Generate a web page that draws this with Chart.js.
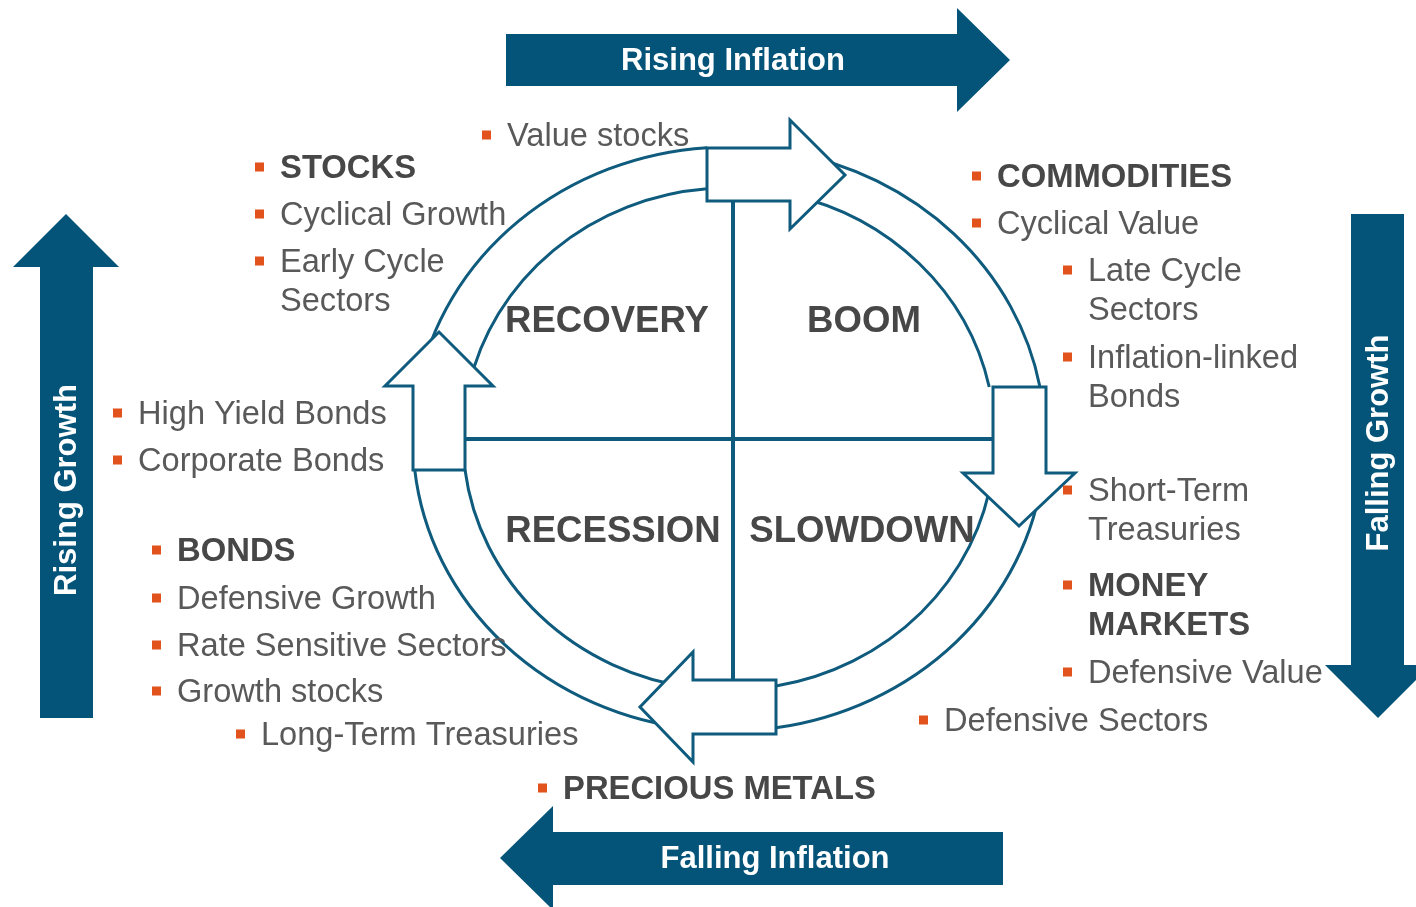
<!DOCTYPE html>
<html>
<head>
<meta charset="utf-8">
<script src="https://cdn.jsdelivr.net/npm/chart.js@4.4.1/dist/chart.umd.min.js"></script>
<style>
  html, body { margin: 0; padding: 0; background: #fff; }
  #wrap { width: 1416px; height: 907px; position: relative; }
</style>
</head>
<body>
<div id="wrap"><canvas id="cycle"></canvas></div>
<script>
// text of the diagram
var phases = ['RECOVERY', 'BOOM', 'RECESSION', 'SLOWDOWN'];
var drivers = ['Rising Inflation', 'Falling Inflation', 'Rising Growth', 'Falling Growth'];
var assetClasses = ['STOCKS', 'COMMODITIES', 'MONEY MARKETS', 'BONDS', 'PRECIOUS METALS'];
var recoveryAssets = ['Value stocks', 'STOCKS', 'Cyclical Growth', 'Early Cycle Sectors'];
var boomAssets = ['COMMODITIES', 'Cyclical Value', 'Late Cycle Sectors', 'Inflation-linked Bonds'];
var slowdownAssets = ['Short-Term Treasuries', 'MONEY MARKETS', 'Defensive Value', 'Defensive Sectors'];
var recessionAssets = ['High Yield Bonds', 'Corporate Bonds', 'BONDS', 'Defensive Growth',
  'Rate Sensitive Sectors', 'Growth stocks', 'Long-Term Treasuries', 'PRECIOUS METALS'];

// layout, in diagram units (x 0..1416, y 0..907 from the top)
var phasePos = [[607, 322], [864, 322], [613, 532], [862, 532]];
var driverPos = [[733, 60, 0], [775, 858, 0], [66, 490, -1], [1378, 443, -1]];
var driverArrows = [
  [[506, 34], [957, 34], [957, 8], [1010, 60], [957, 112], [957, 86], [506, 86]],
  [[1003, 832], [553, 832], [553, 806], [500, 858], [553, 910], [553, 885], [1003, 885]],
  [[40, 718], [40, 267], [13, 267], [66, 214], [119, 267], [93, 267], [93, 718]],
  [[1351, 214], [1404, 214], [1404, 665], [1431, 665], [1378, 718], [1325, 665], [1351, 665]]
];
var ringArrows = [
  [[707, 148], [790, 148], [790, 120], [845, 175], [790, 229], [790, 201], [707, 201]],
  [[993, 387], [1046, 387], [1046, 473], [1075, 473], [1019, 526], [963, 473], [993, 473]],
  [[776, 680], [693, 680], [693, 652], [640, 707], [693, 762], [693, 734], [776, 734]],
  [[413, 470], [413, 386], [385, 386], [439, 332], [493, 386], [465, 386], [465, 470]]
];
var ring = { cx: 729, cy: 439, outer: [316, 292], inner: [266, 251] };
// each band: start [kind, value, sign], end [kind, value, sign]
var bands = [
  [['y', 386, -1], ['x', 707, -1]],
  [['x', 790, -1], ['y', 387, 1]],
  [['y', 473, 1], ['x', 776, 1]],
  [['x', 693, 1], ['y', 470, -1]]
];
var cross = { x: 733, y: 439, top: 200, bottom: 681, left: 464, right: 994 };
var recoveryPos = [[507, 136, 999], [280, 168, 999], [280, 215, 999], [280, 262, 205]];
var boomPos = [[997, 177, 999], [997, 224, 999], [1088, 271, 205], [1088, 358, 235]];
var slowdownPos = [[1088, 491, 240], [1088, 586, 205], [1088, 673, 999], [944, 721, 999]];
var recessionPos = [[138, 414, 999], [138, 461, 999], [177, 551, 999], [177, 599, 999],
  [177, 646, 999], [177, 692, 999], [261, 735, 999], [563, 789, 999]];

var TEAL = '#04547a';
var LINE = '#0f5b7e';
var FONT = '"Liberation Sans", Arial, sans-serif';

var cyclePlugin = {
  id: 'cycle',
  afterDraw: function (chart) {
    var ctx = chart.ctx;
    var xs = chart.scales.x, ys = chart.scales.y;
    function px(x) { return xs.getPixelForValue(x); }
    function py(y) { return ys.getPixelForValue(y); }

    function poly(pts, fill, stroke) {
      ctx.beginPath();
      pts.forEach(function (p, i) {
        if (i === 0) ctx.moveTo(px(p[0]), py(p[1]));
        else ctx.lineTo(px(p[0]), py(p[1]));
      });
      ctx.closePath();
      ctx.fillStyle = fill;
      ctx.fill();
      if (stroke) {
        ctx.lineJoin = 'miter';
        ctx.strokeStyle = stroke;
        ctx.lineWidth = 3;
        ctx.stroke();
      }
    }

    ctx.save();

    // driver arrows round the outside
    driverArrows.forEach(function (pts) { poly(pts, TEAL); });
    ctx.fillStyle = '#fff';
    ctx.font = 'bold 31px ' + FONT;
    ctx.textAlign = 'center';
    ctx.textBaseline = 'middle';
    drivers.forEach(function (t, i) {
      var p = driverPos[i];
      ctx.save();
      ctx.translate(px(p[0]), py(p[1]));
      ctx.rotate(p[2] * Math.PI / 2);
      ctx.fillText(t, 0, 1);
      ctx.restore();
    });

    // cross lines
    ctx.strokeStyle = LINE;
    ctx.lineWidth = 4;
    ctx.beginPath();
    ctx.moveTo(px(cross.x), py(cross.top));
    ctx.lineTo(px(cross.x), py(cross.bottom));
    ctx.moveTo(px(cross.left), py(cross.y));
    ctx.lineTo(px(cross.right), py(cross.y));
    ctx.stroke();

    // curved bands of the ring
    var cxp = px(ring.cx), cyp = py(ring.cy);
    function radii(r) {
      return [px(ring.cx + r[0]) - cxp, py(ring.cy + r[1]) - cyp];
    }
    function angle(r, s) {
      var dx, dy;
      if (s[0] === 'y') {
        dy = (s[1] - ring.cy) / r[1];
        dx = s[2] * Math.sqrt(1 - dy * dy);
      } else {
        dx = (s[1] - ring.cx) / r[0];
        dy = s[2] * Math.sqrt(1 - dx * dx);
      }
      return Math.atan2(dy, dx);
    }
    var ro = radii(ring.outer), ri = radii(ring.inner);
    bands.forEach(function (b) {
      var o0 = angle(ring.outer, b[0]), o1 = angle(ring.outer, b[1]);
      var i0 = angle(ring.inner, b[0]), i1 = angle(ring.inner, b[1]);
      ctx.beginPath();
      ctx.ellipse(cxp, cyp, ro[0], ro[1], 0, o0, o1, false);
      ctx.ellipse(cxp, cyp, ri[0], ri[1], 0, i1, i0, true);
      ctx.closePath();
      ctx.fillStyle = '#fff';
      ctx.fill();
      ctx.strokeStyle = LINE;
      ctx.lineWidth = 3;
      ctx.beginPath();
      ctx.ellipse(cxp, cyp, ro[0], ro[1], 0, o0, o1, false);
      ctx.stroke();
      ctx.beginPath();
      ctx.ellipse(cxp, cyp, ri[0], ri[1], 0, i0, i1, false);
      ctx.stroke();
    });

    // block arrows of the ring
    ringArrows.forEach(function (pts) { poly(pts, '#fff', LINE); });

    // phase names
    ctx.fillStyle = '#474747';
    ctx.font = 'bold 36.6px ' + FONT;
    ctx.textAlign = 'center';
    phases.forEach(function (t, i) {
      ctx.fillText(t, px(phasePos[i][0]), py(phasePos[i][1]));
    });

    // asset lists
    ctx.textAlign = 'left';
    function item(text, pos) {
      var bold = assetClasses.indexOf(text) >= 0;
      ctx.font = (bold ? 'bold 32.8px ' : '32.6px ') + FONT;
      var words = text.split(' '), lines = [], cur = '';
      words.forEach(function (w) {
        var test = cur ? cur + ' ' + w : w;
        if (cur && ctx.measureText(test).width > pos[2]) { lines.push(cur); cur = w; }
        else cur = test;
      });
      lines.push(cur);
      var x = px(pos[0]);
      ctx.fillStyle = '#e2521d';
      ctx.fillRect(x - 25, py(pos[1]) - 5.5, 9, 9);
      ctx.fillStyle = bold ? '#474747' : '#595959';
      lines.forEach(function (l, k) {
        ctx.fillText(l, x, py(pos[1] + k * 39) + 1);
      });
    }
    recoveryAssets.forEach(function (t, i) { item(t, recoveryPos[i]); });
    boomAssets.forEach(function (t, i) { item(t, boomPos[i]); });
    slowdownAssets.forEach(function (t, i) { item(t, slowdownPos[i]); });
    recessionAssets.forEach(function (t, i) { item(t, recessionPos[i]); });

    ctx.restore();
  }
};

var chart = new Chart(document.getElementById('cycle'), {
  type: 'scatter',
  data: { datasets: [{ data: [], pointRadius: 0 }] },
  options: {
    responsive: true,
    maintainAspectRatio: false,
    animation: false,
    layout: { padding: 0 },
    plugins: { legend: { display: false }, tooltip: { enabled: false } },
    scales: {
      x: { type: 'linear', min: 0, max: 1416, display: false },
      y: { type: 'linear', min: 0, max: 907, reverse: true, display: false }
    }
  },
  plugins: [cyclePlugin]
});
</script>
</body>
</html>
